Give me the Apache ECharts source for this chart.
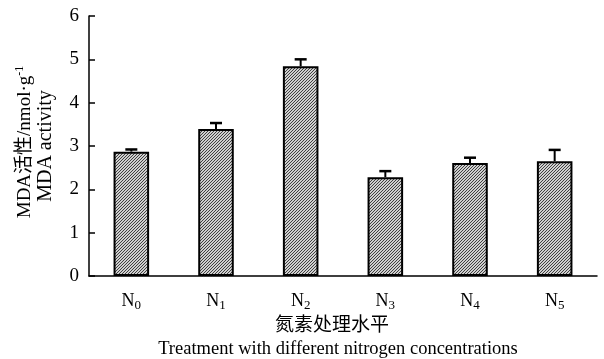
<!DOCTYPE html>
<html><head><meta charset="utf-8">
<script src="https://cdn.jsdelivr.net/npm/echarts@6/dist/echarts.min.js"></script>
<style>html,body{margin:0;padding:0;background:#fff}#c{width:604px;height:359px}</style>
</head><body><div id="c"></div>
<script>
const categories = ['0', '1', '2', '3', '4', '5'];
const means = [2.87, 3.39, 4.84, 2.28, 2.61, 2.65];
const errors = [0.05, 0.14, 0.16, 0.14, 0.12, 0.26];
const yTicks = [0, 1, 2, 3, 4, 5, 6];

const pc = document.createElement('canvas');
pc.width = 3; pc.height = 3;
const g = pc.getContext('2d');
g.fillStyle = '#cfcfcf'; g.fillRect(0,0,3,3);
g.fillStyle = '#404040';
g.fillRect(2,0,1,1); g.fillRect(1,1,1,1); g.fillRect(0,2,1,1);

const chart = echarts.init(document.getElementById('c'));
const serif = '"Liberation Serif", "Times New Roman", serif';
chart.setOption({
  animation: false,
  grid: { left: 89, right: 7, top: 16, bottom: 83 },
  xAxis: {
    type: 'category', data: categories,
    axisLine: { lineStyle: { color: '#000', width: 1.5 } },
    axisTick: { inside: true, length: 6, lineStyle: { color: '#000', width: 1.5 } },
    axisLabel: {
      interval: 0, margin: 14, color: '#000',
      formatter: v => 'N{sub|' + v + '}',
      rich: {
        sub: { fontFamily: serif, fontSize: 13, color: '#000', padding: [9, 0, 0, 0] }
      },
      fontFamily: serif, fontSize: 18
    }
  },
  yAxis: {
    type: 'value', min: yTicks[0], max: yTicks[yTicks.length-1], interval: 1,
    axisLine: { show: true, lineStyle: { color: '#000', width: 1.5 } },
    axisTick: { show: true, inside: true, length: 6, lineStyle: { color: '#000', width: 1.5 } },
    splitLine: { show: false },
    axisLabel: { color: '#000', fontFamily: serif, fontSize: 19, margin: 10 }
  },
  graphic: [
    { type: 'text', x: 25, y: 142, rotation: Math.PI/2, style: {
        text: 'MDA活性/nmol·g{sup|-1}', font: '19px "Liberation Serif", "Noto Sans CJK SC", serif',
        fill: '#000', align: 'center', verticalAlign: 'middle',
        rich: { sup: { fontSize: 12, fontFamily: serif, fill: '#000', padding: [0, 0, 11, 0] } } } },
    { type: 'text', x: 46, y: 146, rotation: Math.PI/2, style: {
        text: 'MDA activity', font: '20px "Liberation Serif", serif',
        fill: '#000', align: 'center', verticalAlign: 'middle' } },
    { type: 'text', x: 332, y: 324, style: {
        text: '氮素处理水平', font: '19px "Noto Sans CJK SC", sans-serif',
        fill: '#000', align: 'center', verticalAlign: 'middle' } },
    { type: 'text', x: 338, y: 349, style: {
        text: 'Treatment with different nitrogen concentrations', font: '18.5px "Liberation Serif", serif',
        fill: '#000', align: 'center', verticalAlign: 'middle' } }
  ],
  series: [
    {
      type: 'bar', data: means, barWidth: '42%',
      itemStyle: { color: { image: pc, repeat: 'repeat' }, borderColor: '#000', borderWidth: 2 },
      z: 2
    },
    {
      type: 'custom', z: 3,
      data: means.map((m, i) => [i, m, m + errors[i]]),
      renderItem: (params, api) => {
        const p0 = api.coord([api.value(0), api.value(1)]);
        const p1 = api.coord([api.value(0), api.value(2)]);
        return { type: 'group', children: [
          { type: 'line', shape: { x1: p0[0], y1: p0[1], x2: p1[0], y2: p1[1] }, style: { stroke: '#000', lineWidth: 2 } },
          { type: 'line', shape: { x1: p1[0]-6, y1: p1[1], x2: p1[0]+6, y2: p1[1] }, style: { stroke: '#000', lineWidth: 2.5 } }
        ]};
      }
    }
  ]
});
</script></body></html>
